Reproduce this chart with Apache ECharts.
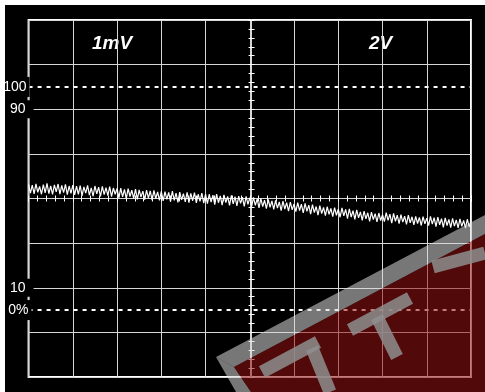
<!DOCTYPE html>
<html>
<head>
<meta charset="utf-8">
<script src="https://cdn.jsdelivr.net/npm/echarts@6/dist/echarts.min.js"></script>
<style>
  html, body { margin: 0; padding: 0; background: #fff; }
  #chart { position: absolute; left: 5px; top: 5px; width: 480px; height: 387px; background: #000; }
</style>
</head>
<body>
<div id="chart"></div>
<script>
// scope trace, in % of the 0..100 scale, 24 samples per division
var traceY = [
  56.3, 52.4, 56.0, 52.1, 56.6, 52.8, 55.4, 51.9, 56.2, 52.5, 56.8, 52.2, 55.7, 51.8, 56.1, 53.0, 56.5, 52.0, 55.9, 52.6, 56.3, 51.7, 55.6, 52.3, 56.0,
  51.6, 55.5, 51.9, 55.8, 51.2, 55.2, 52.4, 55.9, 51.5, 54.8, 51.0, 55.6, 52.1, 55.1, 50.9, 55.4, 51.7, 54.9, 51.3, 55.3, 50.8, 54.7, 51.9, 54.5,
  50.3, 54.6, 50.7, 54.1, 49.9, 54.4, 50.9, 53.7, 50.1, 54.2, 49.6, 53.9, 50.6, 53.3, 49.5, 53.8, 50.2, 53.4, 49.3, 53.6, 50.0, 53.0, 49.2, 53.2,
  48.9, 53.1, 49.6, 52.7, 48.6, 53.3, 49.2, 52.4, 48.3, 52.9, 49.4, 52.2, 48.5, 52.8, 48.1, 52.3, 49.0, 52.6, 48.0, 51.9, 48.7, 52.4, 47.9, 52.0,
  47.7, 51.9, 48.4, 51.5, 47.3, 52.0, 48.1, 51.2, 47.0, 51.6, 48.2, 50.9, 46.9, 51.4, 47.6, 50.8, 46.7, 51.1, 47.8, 50.6, 46.5, 51.0, 47.4, 50.4,
  46.3, 50.5, 46.9, 49.8, 45.8, 50.1, 46.4, 49.3, 45.5, 49.6, 46.0, 48.9, 45.1, 49.2, 45.7, 48.5, 44.6, 48.8, 45.2, 48.1, 44.3, 48.4, 44.9, 47.6,
  44.1, 48.2, 44.6, 47.5, 43.5, 47.8, 44.2, 47.0, 43.0, 47.3, 43.7, 46.4, 42.6, 46.8, 43.2, 46.0, 42.3, 46.3, 42.9, 45.6, 41.9, 45.9, 42.5, 45.2,
  41.6, 45.8, 42.2, 45.1, 41.0, 45.4, 41.7, 44.6, 40.6, 44.9, 41.3, 44.0, 40.2, 44.3, 40.9, 43.6, 39.8, 43.9, 40.5, 43.2, 39.5, 43.5, 40.1, 42.8,
  39.6, 43.7, 40.2, 43.0, 39.0, 43.3, 39.8, 42.5, 38.7, 42.8, 39.4, 42.1, 38.4, 42.5, 39.1, 41.8, 38.2, 42.0, 38.8, 41.5, 37.9, 41.9, 38.6, 41.2,
  37.8, 42.0, 38.5, 41.4, 37.4, 41.7, 38.2, 41.0, 37.1, 41.3, 37.9, 40.6, 36.9, 41.1, 37.6, 40.4, 36.8, 40.9, 37.5, 40.2, 36.7, 40.7, 37.3, 40.0
];
var divisions = 10;
var refLevels = [100, 0];
var refLabels = ['100', '0%'];
var gridLabels = [90, 10];
var chLabels = ['1mV', '2V'];

var chart = echarts.init(document.getElementById('chart'));

var step = divisions / (traceY.length - 1);
var traceData = traceY.map(function (v, i) { return [i * step, v]; });

var grey = '#d6d6d6';
var labelFont = { color: '#fff', fontFamily: 'Liberation Sans', fontSize: 14, backgroundColor: '#000' };

function centreX(inside) {
  return {
    type: 'value', min: 0, max: divisions, interval: 1, position: 'bottom', offset: -178.5,
    axisLine: { show: true, lineStyle: { color: grey, width: 1 } },
    axisTick: { show: true, inside: inside, length: 3, lineStyle: { color: '#fff' } },
    minorTick: { show: true, splitNumber: 5, length: 3, lineStyle: { color: '#fff' } },
    axisLabel: { show: false }, splitLine: { show: false }
  };
}
function centreY(inside) {
  return {
    type: 'value', min: -30, max: 130, interval: 20, position: 'left', offset: -223,
    axisLine: { show: true, lineStyle: { color: grey, width: 1 } },
    axisTick: { show: true, inside: inside, length: 3, lineStyle: { color: '#fff' } },
    minorTick: { show: true, splitNumber: 5, length: 3, lineStyle: { color: '#fff' } },
    axisLabel: { show: false }, splitLine: { show: false }
  };
}

// watermark pieces, chart pixel coords
var wmGrey = { fill: '#d8d8d8', opacity: 0.55 };
var wmLetter = { stroke: '#8e8e8e', lineWidth: 13, opacity: 0.85 };

var option = {
  backgroundColor: '#000',
  animation: false,
  grid: { left: 20, top: 15, width: 446, height: 357, show: true, borderColor: '#fff', borderWidth: 2, backgroundColor: 'transparent' },
  xAxis: [
    {
      type: 'value', min: 0, max: divisions, interval: 1,
      axisLine: { show: false }, axisTick: { show: false }, axisLabel: { show: false },
      splitLine: { show: true, lineStyle: { color: grey, width: 1 } }
    },
    centreX(false), centreX(true)
  ],
  yAxis: [
    {
      type: 'value', min: -30, max: 130, interval: 20,
      axisLine: { show: false }, axisTick: { show: false },
      axisLabel: Object.assign({ customValues: gridLabels, margin: -5, padding: [2, 8, 2, 2] }, labelFont),
      splitLine: { show: true, lineStyle: { color: grey, width: 1 } }
    },
    centreY(false), centreY(true)
  ],
  series: [
    {
      type: 'line', data: traceData, xAxisIndex: 0, yAxisIndex: 0,
      showSymbol: false, z: 5,
      lineStyle: { color: '#fff', width: 1.2 }
    },
    {
      type: 'line', data: [], xAxisIndex: 0, yAxisIndex: 0,
      markLine: {
        silent: true, symbol: 'none',
        lineStyle: { color: '#fff', width: 2, type: [4, 5] },
        data: refLevels.map(function (v, i) {
          return {
            yAxis: v,
            label: Object.assign({ show: true, position: 'start', formatter: refLabels[i], distance: i === 0 ? -1 : -3, padding: [3, 3, 3, 2] }, labelFont)
          };
        })
      }
    }
  ],
  graphic: [
    { type: 'text', left: 87, top: 29, style: { text: chLabels[0], fill: '#fff', font: 'italic bold 19px "Liberation Sans"' } },
    { type: 'text', left: 364, top: 29, style: { text: chLabels[1], fill: '#fff', font: 'italic bold 19px "Liberation Sans"' } },
    // watermark
    { type: 'polygon', z: 100, silent: true, shape: { points: [[211, 352], [480, 210], [480, 229], [229, 362]] }, style: wmGrey },
    { type: 'polygon', z: 100, silent: true, shape: { points: [[211, 352], [229, 362], [246, 387], [231, 387]] }, style: wmGrey },
    { type: 'polygon', z: 101, silent: true, shape: { points: [[229, 362], [480, 229], [480, 387], [246, 387]] }, style: { fill: '#961010', opacity: 0.55 } },
    { type: 'line', z: 102, silent: true, shape: { x1: 257, y1: 367, x2: 313, y2: 337 }, style: wmLetter },
    { type: 'line', z: 102, silent: true, shape: { x1: 307, y1: 343, x2: 325, y2: 387 }, style: wmLetter },
    { type: 'line', z: 102, silent: true, shape: { x1: 345, y1: 325, x2: 405, y2: 293 }, style: wmLetter },
    { type: 'line', z: 102, silent: true, shape: { x1: 372, y1: 312, x2: 392, y2: 352 }, style: wmLetter },
    { type: 'line', z: 102, silent: true, shape: { x1: 428, y1: 262, x2: 480, y2: 248 }, style: wmLetter }
  ]
};
chart.setOption(option);
</script>
</body>
</html>
